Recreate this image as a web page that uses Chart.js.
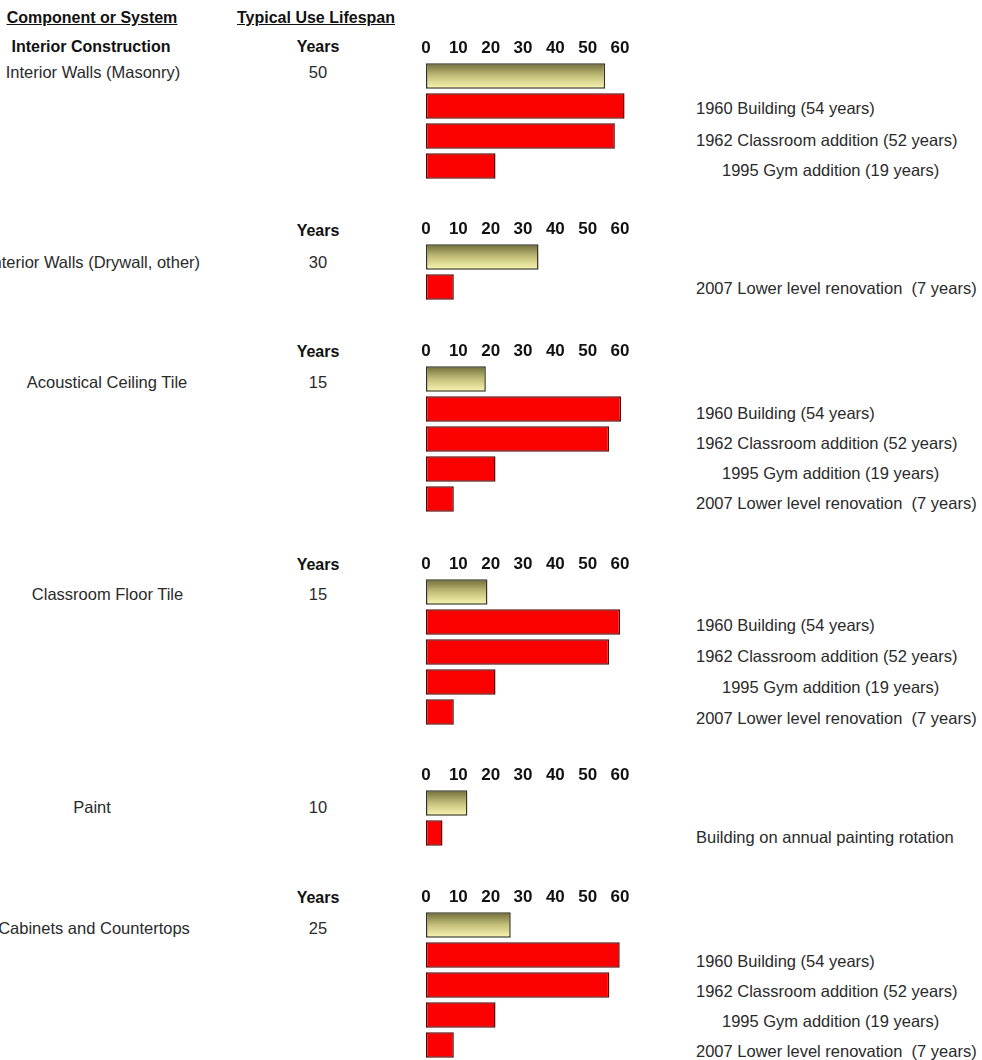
<!DOCTYPE html>
<html>
<head>
<meta charset="utf-8">
<script src="https://cdn.jsdelivr.net/npm/chart.js@4.4.0/dist/chart.umd.min.js"></script>
<style>
  html, body { margin: 0; padding: 0; background: #fff; }
  #page { position: relative; width: 982px; height: 1060px; overflow: hidden; background: #fff;
          font-family: "Liberation Sans", Arial, sans-serif; color: #2a2a2a; }
  .t { position: absolute; white-space: pre; font-size: 16.5px; line-height: 18px; transform: translate(-50%, -50%); }
  .l { position: absolute; white-space: pre; font-size: 16.5px; line-height: 18px; transform: translate(0, -50%); }
  .b { font-weight: bold; color: #111; font-size: 16px; }
  .u { text-decoration: underline; }
  canvas { position: absolute; }
</style>
</head>
<body>
<div id="page"></div>
<script>
// ---------------- DATA ----------------
const components = ["Interior Walls (Masonry)", "Interior Walls (Drywall, other)", "Acoustical Ceiling Tile",
                    "Classroom Floor Tile", "Paint", "Cabinets and Countertops"];
const typicalLifespan = ["50", "30", "15", "15", "10", "25"];          // printed lifespan (years)
const yearsHeader = [true, true, true, true, false, true];             // "Years" shown above value
const typicalBar = [55.4, 34.8, 18.5, 19, 12.8, 26.2];                 // tan bar length as drawn on the 0-60 axis
const buildingBars = [
  [61.4, 58.4, 21.5],
  [8.6],
  [60.3, 56.6, 21.5, 8.6],
  [60, 56.6, 21.5, 8.6],
  [5.1],
  [59.9, 56.7, 21.5, 8.6]
];
const buildingLabels = [
  ["1960 Building (54 years)", "1962 Classroom addition (52 years)", "1995 Gym addition (19 years)"],
  ["2007 Lower level renovation  (7 years)"],
  ["1960 Building (54 years)", "1962 Classroom addition (52 years)", "1995 Gym addition (19 years)", "2007 Lower level renovation  (7 years)"],
  ["1960 Building (54 years)", "1962 Classroom addition (52 years)", "1995 Gym addition (19 years)", "2007 Lower level renovation  (7 years)"],
  ["Building on annual painting rotation"],
  ["1960 Building (54 years)", "1962 Classroom addition (52 years)", "1995 Gym addition (19 years)", "2007 Lower level renovation  (7 years)"]
];
const tickValues = [0, 10, 20, 30, 40, 50, 60];

// ---------------- LAYOUT (positions only) ----------------
const panelTop = [61, 242, 363.5, 576.5, 788.4, 910];   // top of plot area of each panel
const nameX = [93, 94, 107, 107.5, 92, 94];
const nameY = [72, 262, 382, 594, 807, 928];
const yearsY = [47, 231, 352, 565, null, 898];
const labelY = [
  [108, 140, 170],
  [288],
  [413, 443, 473, 503],
  [625, 656, 687, 718],
  [837],
  [961, 991, 1021, 1051]
];
const AXIS_H = 24, PITCH = 30;

const page = document.getElementById('page');
function txt(s, x, y, cls) {
  const d = document.createElement('div');
  d.className = cls; d.textContent = s;
  d.style.left = x + 'px'; d.style.top = y + 'px';
  page.appendChild(d); return d;
}

// headers
txt("Component or System", 92, 18, "t b u");
txt("Typical Use Lifespan", 316, 18, "t b u");
txt("Interior Construction", 91, 47, "t b");

components.forEach((c, i) => {
  txt(c, nameX[i], nameY[i], "t");
  txt(typicalLifespan[i], 318, nameY[i], "t");
  if (yearsHeader[i]) txt("Years", 318, yearsY[i], "t b");
  buildingLabels[i].forEach((s, j) => {
    const x = s.startsWith("1995") ? 722 : 696;
    txt(s, x, labelY[i][j], "l");
  });
});

// ---------------- CHARTS ----------------
function tanFill(ctx) {
  const chart = ctx.chart;
  const ys = chart.scales && chart.scales.y;
  if (!chart.chartArea || !ys) return '#c8c47e';
  const y = ys.getPixelForValue(ctx.dataIndex);
  const h = PITCH * 0.85;
  const g = chart.ctx.createLinearGradient(0, y - h / 2, 0, y + h / 2);
  g.addColorStop(0, '#6f6b38');
  g.addColorStop(0.5, '#c4c07a');
  g.addColorStop(1, '#fbf8b4');
  return g;
}

components.forEach((c, i) => {
  const values = [typicalBar[i]].concat(buildingBars[i]);
  const cats = ["Typical"].concat(buildingLabels[i]);
  const cv = document.createElement('canvas');
  const H = AXIS_H + values.length * PITCH;
  cv.width = 254; cv.height = H;
  cv.style.left = '396px';
  cv.style.top = (panelTop[i] - AXIS_H) + 'px';
  cv.style.width = '254px'; cv.style.height = H + 'px';
  page.appendChild(cv);
  new Chart(cv, {
    type: 'bar',
    data: {
      labels: cats,
      datasets: [{
        data: values,
        backgroundColor: (ctx) => ctx.dataIndex === 0 ? tanFill(ctx) : '#fb0000',
        borderColor: (ctx) => ctx.dataIndex === 0 ? '#34331f' : '#5c0000',
        borderWidth: 1.5,
        borderSkipped: false,
        barPercentage: 0.85,
        categoryPercentage: 1
      }]
    },
    options: {
      indexAxis: 'y',
      responsive: false,
      animation: false,
      devicePixelRatio: 1,
      layout: { padding: { left: 30, right: 23.5, top: 0, bottom: 0 } },
      plugins: { legend: { display: false }, tooltip: { enabled: false } },
      scales: {
        x: {
          position: 'top', min: 0, max: 62,
          afterBuildTicks: (s) => { s.ticks = tickValues.map(v => ({ value: v })); },
          afterFit: (s) => { s.height = AXIS_H; },
          grid: { display: false, drawTicks: false },
          border: { display: false },
          ticks: { color: '#111', padding: 2, maxRotation: 0, autoSkip: false,
                   font: { family: '"Liberation Sans", Arial, sans-serif', size: 17, weight: 'bold' } }
        },
        y: { display: false }
      }
    }
  });
});
</script>
</body>
</html>
